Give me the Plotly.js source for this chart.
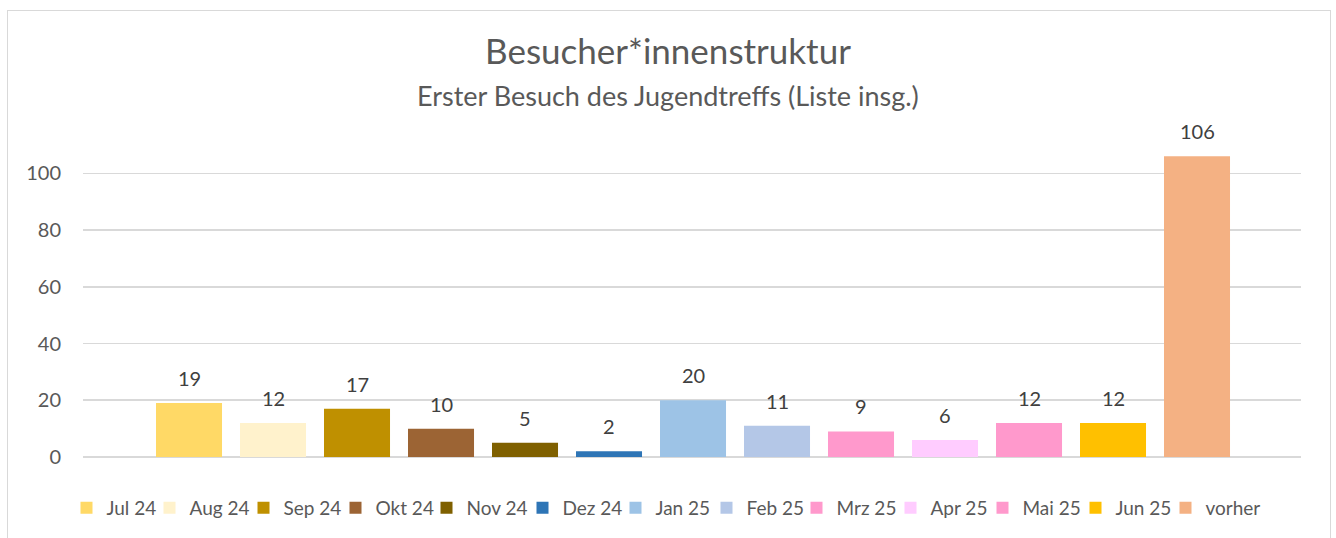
<!DOCTYPE html>
<html>
<head>
<meta charset="utf-8">
<script src="https://cdn.plot.ly/plotly-3.0.1.min.js"></script>
<style>
  html, body { margin: 0; padding: 0; background: #ffffff; overflow: hidden; width: 1336px; height: 538px; }
  #frame { position: absolute; left: 7px; top: 10px; width: 1322px; height: 560px; border: 1.5px solid #d9d9d9; background: #fff; }
  #chart { width: 1322px; height: 528px; }
</style>
</head>
<body>
<div id="frame"><div id="chart"></div></div>
<script>
const categories = ["Jul 24", "Aug 24", "Sep 24", "Okt 24", "Nov 24", "Dez 24", "Jan 25", "Feb 25", "Mrz 25", "Apr 25", "Mai 25", "Jun 25", "vorher"];
const values = [19, 12, 17, 10, 5, 2, 20, 11, 9, 6, 12, 12, 106];
const colors = ["#FFD966", "#FFF2CC", "#BF9000", "#9C6434", "#7F6000", "#2E75B6", "#9DC3E6", "#B4C7E7", "#FF99CC", "#FFCCFF", "#FF99CC", "#FFC000", "#F4B183"];
const yTicks = [0, 20, 40, 60, 80, 100];
const titleText = "Besucher*innenstruktur";
const subtitleText = "Erster Besuch des Jugendtreffs (Liste insg.)";

// layout constants (pixel positions of legend entries, page coordinates)
const legendSquareX = [82, 165, 259, 351, 442, 538, 631, 722, 812, 906, 998, 1091, 1181];
const PLOT_LEFT = 83.5, PLOT_W = 1218;

const FONT = "Lato, 'Open Sans', sans-serif";
const legendId = i => (i === 0 ? "legend" : "legend" + (i + 1));

const traces = categories.map((c, i) => ({
  type: "bar",
  name: c,
  x: [c],
  y: [values[i]],
  legend: legendId(i),
  marker: { color: colors[i], line: { width: 0 } },
  hoverinfo: "name+y"
}));

const labelAnnotations = categories.map((c, i) => ({
  x: c, y: values[i], xref: "x", yref: "y",
  text: String(values[i]), showarrow: false,
  yanchor: "bottom", yshift: 11,
  font: { family: FONT, size: 20, color: "#404040" }
}));

const H = 528;
const layout = {
  width: 1322, height: H,
  margin: { l: 75, r: 29, t: 134, b: 82 },
  paper_bgcolor: "#ffffff", plot_bgcolor: "#ffffff",
  font: { family: FONT, color: "#595959" },
  barmode: "overlay",
  bargap: 0.214,
  showlegend: true,
  title: {
    text: titleText,
    font: { family: FONT, size: 35, color: "#595959" },
    x: (668 - 8) / 1322, xanchor: "center", xref: "container",
    y: 1 - 41 / H, yanchor: "middle", yref: "container"
  },
  xaxis: {
    type: "category",
    categoryorder: "array", categoryarray: categories,
    range: [-1.262, 13.238],
    showticklabels: false, showgrid: false, zeroline: false, showline: false, ticks: ""
  },
  yaxis: {
    range: [0, 110],
    tickvals: yTicks,
    ticktext: yTicks.map(String),
    showgrid: true, gridcolor: "#d9d9d9", gridwidth: 1.6,
    zeroline: true, zerolinecolor: "#d9d9d9", zerolinewidth: 1.6,
    showline: false, ticks: "",
    ticklabelstandoff: 21,
    tickfont: { family: FONT, size: 20, color: "#595959" }
  },
  annotations: [
    {
      text: subtitleText, showarrow: false,
      xref: "paper", yref: "paper", x: (668 - 83) / 1218, y: (446 - 85) / 312,
      xanchor: "center", yanchor: "middle",
      font: { family: FONT, size: 27, color: "#595959" }
    }
  ].concat(labelAnnotations)
};

categories.forEach((c, i) => {
  layout[legendId(i)] = {
    orientation: "h",
    x: (legendSquareX[i] - 15 - PLOT_LEFT) / PLOT_W, xanchor: "left",
    y: -0.163, yanchor: "middle",
    font: { family: FONT, size: 19, color: "#595959" },
    itemwidth: 30,
    bgcolor: "rgba(0,0,0,0)",
    borderwidth: 0
  };
});

Plotly.newPlot("chart", traces, layout, { displayModeBar: false, staticPlot: true });
</script>
</body>
</html>
